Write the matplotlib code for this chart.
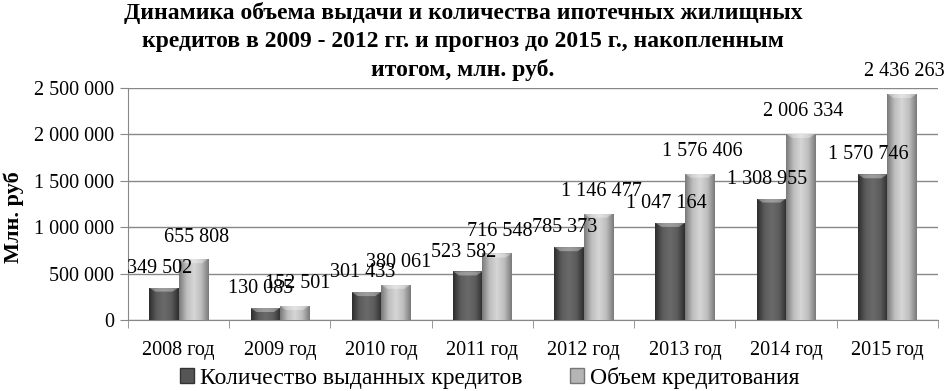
import numpy as np
import matplotlib
matplotlib.use("Agg")
import matplotlib.pyplot as plt
from matplotlib.patches import Patch
from matplotlib.colors import LinearSegmentedColormap

plt.rcParams['font.family'] = ['Liberation Serif', 'DejaVu Serif']

# data
years = ['2008 год', '2009 год', '2010 год', '2011 год',
         '2012 год', '2013 год', '2014 год', '2015 год']
credits_count = [349502, 130085, 301433, 523582, 785373, 1047164, 1308955, 1570746]
credits_volume = [655808, 152501, 380061, 716548, 1146477, 1576406, 2006334, 2436263]
series_names = ['Количество выданных кредитов', 'Объем кредитования']


def fmt(v):
    return f"{v:,}".replace(",", " ")


fig = plt.figure(figsize=(9.51, 3.91), dpi=100)
ax = fig.add_axes([0.1346, 0.1816, 0.8517, 0.5934])

x = np.arange(len(years))
w = 0.29

dark_cmap = LinearSegmentedColormap.from_list('d', ['#2e2e2e', '#5c5c5c', '#6a6a6a', '#5c5c5c', '#2e2e2e'])
light_cmap = LinearSegmentedColormap.from_list('l', ['#7a7a7a', '#bdbdbd', '#d6d6d6', '#bdbdbd', '#7a7a7a'])

b1 = ax.bar(x - w / 2, credits_count, w, color='#555555', zorder=3)
b2 = ax.bar(x + w / 2, credits_volume, w, color='#b5b5b5', zorder=3)

grad = np.linspace(0, 1, 64).reshape(1, -1)
for bars, cmap in [(b1, dark_cmap), (b2, light_cmap)]:
    for p in bars:
        x0, h, bw = p.get_x(), p.get_height(), p.get_width()
        im = ax.imshow(grad, extent=(x0, x0 + bw, 0, h), aspect='auto',
                       cmap=cmap, zorder=3.5)
        im.set_clip_path(p)
        # top bevel cap
        cap = 0.035 * 2500000 * 0.5
        ax.fill([x0, x0 + bw, x0 + bw * 0.8, x0 + bw * 0.2],
                [h, h, h - cap, h - cap],
                color='white', alpha=0.35, zorder=4, lw=0)

# data labels
for p, v in zip(b1, credits_count):
    ax.annotate(fmt(v), (p.get_x() + p.get_width() / 2, p.get_height()),
                xytext=(-3, 7), textcoords='offset points', ha='center',
                va='bottom', fontsize=14.5, zorder=5)
for p, v in zip(b2, credits_volume):
    ax.annotate(fmt(v), (p.get_x() + p.get_width() / 2, p.get_height()),
                xytext=(2, 9), textcoords='offset points', ha='center',
                va='bottom', fontsize=14.5, zorder=5)

ax.set_xlim(-0.5, len(years) - 0.5)
ax.set_ylim(0, 2500000)
ax.set_yticks(np.arange(0, 2500001, 500000))
ax.set_yticklabels([fmt(v) for v in range(0, 2500001, 500000)], fontsize=14.5)
ax.set_xticks(x)
ax.set_xticklabels(years, fontsize=14.5)
ax.set_xticks(np.arange(-0.5, len(years), 1), minor=True)
ax.tick_params(axis='x', which='major', length=0, pad=15)
ax.tick_params(axis='x', which='minor', length=6, color='#888888')
ax.tick_params(axis='y', length=6, color='#888888', pad=4)

ax.grid(axis='y', color='#888888', lw=1, zorder=0)
for s in ['top', 'right']:
    ax.spines[s].set_visible(False)
ax.spines['left'].set_color('#888888')
ax.spines['bottom'].set_color('#888888')

ax.set_ylabel('Млн. руб', fontsize=16, fontweight='bold')
ax.yaxis.set_label_coords(-0.128, 0.445)

fig.suptitle('Динамика объема выдачи и количества ипотечных жилищных\n'
             'кредитов в 2009 - 2012 гг. и прогноз до 2015 г., накопленным\n'
             'итогом, млн. руб.', x=0.487, y=0.995, va='top', fontsize=17,
             fontweight='bold', linespacing=1.42)

handles = [Patch(facecolor='#555555', edgecolor='#333333'),
           Patch(facecolor='#b5b5b5', edgecolor='#777777')]
fig.legend(handles, series_names, loc='center', bbox_to_anchor=(0.515, 0.034),
           ncol=2, frameon=False, fontsize=17, handlelength=0.6, handleheight=0.6,
           handletextpad=0.25, columnspacing=2.0, borderpad=0.1)

fig.savefig('out.png', dpi=100)
